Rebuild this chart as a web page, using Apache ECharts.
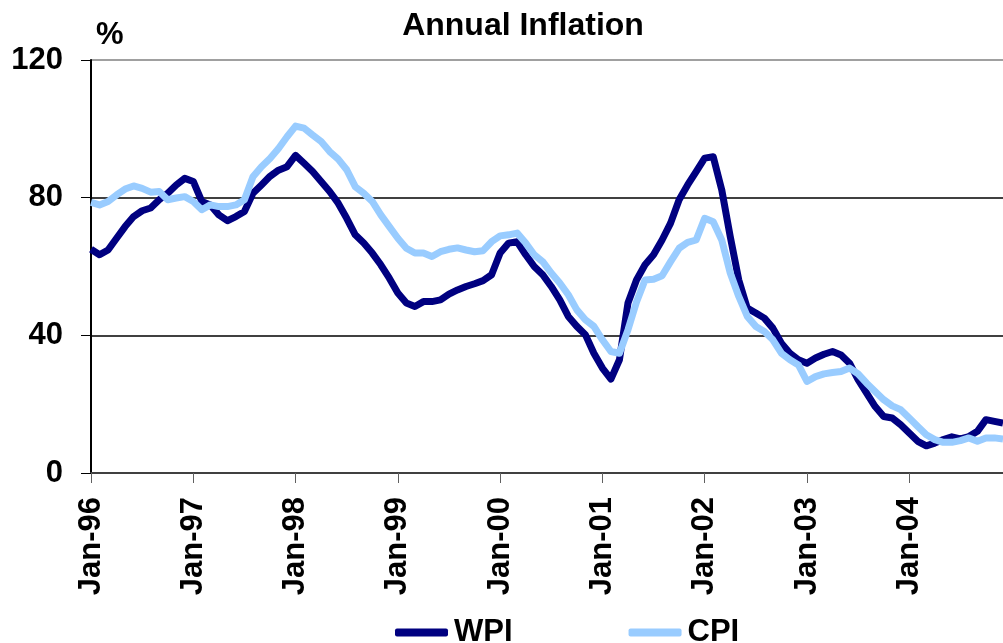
<!DOCTYPE html>
<html>
<head>
<meta charset="utf-8">
<script src="https://cdn.jsdelivr.net/npm/echarts@6/dist/echarts.min.js"></script>
<style>
html,body{margin:0;padding:0;background:#fff;}
#chart{width:1003px;height:643px;}
</style>
</head>
<body>
<div id="chart"></div>
<script>
var monthNames = ['Jan','Feb','Mar','Apr','May','Jun','Jul','Aug','Sep','Oct','Nov','Dec'];
var yearLabels = ['96','97','98','99','00','01','02','03','04'];
var wpi = [
65.0,63.4,64.8,68.2,71.6,74.5,76.2,77.0,79.4,81.3,83.7,85.6,
84.7,78.9,77.9,75.0,73.3,74.5,76.0,81.3,83.7,86.2,88.0,89.0,
92.3,90.0,87.6,84.7,81.8,78.4,74.0,69.2,66.8,63.9,60.5,56.6,
52.3,49.4,48.4,49.8,49.8,50.3,52.0,53.2,54.2,55.0,55.9,57.6,
63.9,66.8,67.2,63.4,60.0,57.6,54.2,50.3,45.5,42.6,40.2,34.8,
30.5,27.3,32.9,49.4,56.1,60.5,63.4,67.7,72.6,79.4,83.7,87.6,
91.5,91.9,82.3,68.7,56.1,47.9,46.5,45.0,42.1,37.7,34.8,32.9,
31.9,33.4,34.5,35.3,34.3,31.9,27.1,23.2,19.3,16.4,16.0,14.0,
11.6,9.2,7.9,8.7,9.7,10.5,9.9,10.6,12.1,15.5,15.0,14.5
];
var cpi = [
78.6,77.9,78.9,80.8,82.5,83.4,82.7,81.6,81.8,79.4,79.9,80.3,
78.9,76.5,77.9,77.4,77.4,77.9,79.4,86.1,89.0,91.4,94.3,97.7,
100.8,100.2,98.2,96.3,93.4,91.2,88.1,83.2,81.3,78.9,75.0,71.6,
68.2,65.3,63.9,63.9,62.9,64.3,65.0,65.4,64.8,64.3,64.6,67.2,
68.9,69.2,69.7,66.8,63.4,61.4,58.1,55.2,51.8,47.4,44.5,42.6,
38.7,35.3,34.8,41.6,49.7,56.1,56.3,57.3,61.4,65.3,67.0,67.7,
74.0,73.0,67.7,58.1,51.3,45.5,42.6,41.1,38.7,34.8,32.9,31.4,
26.6,28.0,28.8,29.2,29.5,30.5,28.8,26.1,23.7,21.3,19.5,18.4,
16.0,13.5,11.1,9.7,8.9,8.9,9.4,10.2,9.2,10.2,10.2,9.9
];
var categories = [];
yearLabels.forEach(function(y){ monthNames.forEach(function(m){ categories.push(m + '-' + y); }); });

var FONT = '"Liberation Sans", Arial, sans-serif';
var chart = echarts.init(document.getElementById('chart'));
chart.setOption({
  animation: false,
  backgroundColor: '#fff',
  title: [
    {text: 'Annual Inflation', left: 518, textAlign: 'center', top: 5,
     textStyle: {fontFamily: FONT, fontWeight: 'bold', fontSize: 32, color: '#000'}},
    {text: '%', left: 91, top: 15,
     textStyle: {fontFamily: FONT, fontWeight: 'bold', fontSize: 31, color: '#000'}}
  ],
  legend: {
    left: 390, top: 612,
    itemWidth: 53, itemHeight: 8, itemGap: 116,
    icon: 'roundRect',
    textStyle: {fontFamily: FONT, fontWeight: 'bold', fontSize: 31, color: '#000', padding: [0,0,0,1]},
    data: ['WPI','CPI']
  },
  grid: {left: 91, right: 0, top: 60, bottom: 170, containLabel: false},
  xAxis: {
    type: 'category', data: categories, boundaryGap: false,
    axisLine: {lineStyle: {color: '#404040', width: 2}},
    axisTick: {show: true, length: 10, interval: function(i){return i % 12 === 0;}, lineStyle: {color: '#606060', width: 1}},
    axisLabel: {interval: function(i){return i % 12 === 0;}, rotate: 90, margin: 24,
      fontFamily: FONT, fontWeight: 'bold', fontSize: 31, color: '#000'},
    splitLine: {show: false}
  },
  yAxis: {
    type: 'value', min: 0, max: 120, interval: 40,
    axisLine: {show: true, lineStyle: {color: '#000', width: 2}},
    axisTick: {show: true, length: 10, lineStyle: {color: '#000', width: 1}},
    axisLabel: {margin: 28, fontFamily: FONT, fontWeight: 'bold', fontSize: 31, color: '#000'},
    splitLine: {show: true, lineStyle: {color: ['#000','#000','#000','#808080'], width: 1.5}}
  },
  series: [
    {name: 'WPI', type: 'line', data: wpi, symbol: 'none', smooth: false,
     lineStyle: {color: '#000080', width: 7, join: 'round'}, itemStyle: {color: '#000080'}},
    {name: 'CPI', type: 'line', data: cpi, symbol: 'none', smooth: false,
     lineStyle: {color: '#99CCFF', width: 7, join: 'round'}, itemStyle: {color: '#99CCFF'}}
  ]
});
</script>
</body>
</html>
